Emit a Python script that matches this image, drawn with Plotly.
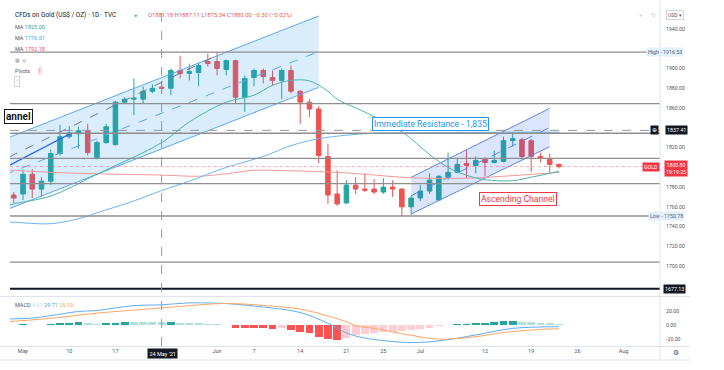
import plotly.graph_objects as go

# ---------------- data (trading-day index: 0 = Mon 3 May 2021) ----------------
day = list(range(-1, 59))
opens = [1772, 1773, 1793, 1778, 1786, 1814, 1831, 1834, 1837, 1810, 1825,
         1823, 1866, 1869, 1869, 1877, 1881.18, 1880, 1898, 1895, 1896,
         1907, 1907, 1899, 1908, 1871, 1891, 1898, 1891, 1888, 1898,
         1877, 1866, 1859, 1811, 1773, 1764, 1782, 1778, 1778, 1775,
         1780, 1778, 1760, 1769, 1776, 1767, 1790, 1795, 1804, 1802,
         1808, 1805, 1806, 1827, 1828, 1827, 1811, 1808, 1803]
highs = [1775, 1798, 1798, 1790, 1818, 1843, 1842, 1841, 1844, 1827, 1844,
         1867, 1871, 1890, 1882, 1884, 1887.11, 1900, 1913, 1905, 1906,
         1915, 1916.53, 1909, 1909, 1893, 1900, 1900, 1898, 1900, 1903,
         1878, 1869, 1862, 1824, 1797, 1787, 1790, 1794, 1788, 1789,
         1787, 1779, 1771, 1782, 1794, 1792, 1815, 1809, 1818, 1811,
         1810, 1817, 1831, 1834, 1830, 1829, 1815, 1814, 1804]
lows = [1764, 1767, 1769, 1771, 1782, 1812, 1829, 1819, 1812, 1808, 1824,
        1822, 1865, 1853, 1864, 1875, 1875.34, 1873, 1890, 1888, 1882,
        1902, 1893, 1893, 1865, 1856, 1882, 1885, 1883, 1869, 1875,
        1844, 1851, 1804, 1763, 1761, 1763, 1773, 1775, 1773, 1773,
        1770, 1750.78, 1752, 1766, 1773, 1766, 1787, 1794, 1789, 1794,
        1791, 1804, 1805, 1821, 1808, 1795, 1805, 1795, 1799]
closes = [1769, 1793, 1778, 1786, 1814, 1831, 1835, 1837, 1815, 1825, 1841,
          1866, 1869, 1870, 1877, 1880, 1880.00, 1898, 1895, 1897, 1903,
          1905, 1900, 1908, 1871, 1890, 1898, 1892, 1888, 1898, 1877,
          1866, 1859, 1812, 1772, 1763, 1782, 1778, 1777, 1775, 1780,
          1778, 1760, 1769, 1776, 1787, 1791, 1795, 1803, 1802, 1807,
          1805, 1807, 1827, 1829, 1811, 1811, 1809, 1803, 1800.80]

# moving averages (sample days / values)
ma_teal_day = [-2, -1, 3, 8, 15, 18, 22, 25, 27, 29, 31, 33, 34, 37, 41, 44, 46, 48, 50, 53, 55, 58]
ma_teal_val = [1760, 1763, 1771, 1793, 1825, 1846, 1866, 1873, 1883, 1888, 1887.5, 1877, 1869,
               1856, 1836, 1813, 1800, 1792, 1787.5, 1786.5, 1790, 1796]
ma_blue_day = [-2, -1, 3, 6, 8, 12, 15, 18, 22, 26, 29, 32, 35, 38, 43, 50, 58]
ma_blue_val = [1745, 1744.5, 1743, 1748, 1754, 1766, 1776.51, 1786, 1800, 1811, 1822, 1829,
               1832.5, 1834.5, 1835, 1835.5, 1835.5]
ma_red_day = [-2, -1, 3, 8, 15, 19, 22, 25, 29, 34, 37, 42, 48, 52, 58]
ma_red_val = [1797.5, 1797, 1795, 1793.5, 1792.18, 1791, 1793.5, 1797, 1796.5, 1795, 1793,
              1789.5, 1789, 1791, 1795]

# MACD pane
macd_hist = [1.0, 1.5, 0.5, 0.4, 1.5, 2.9, 3.9, 4.9, 2.9, 2.5, 2.9,
             3.9, 5.2, 5.0, 4.9, 4.8, 4.61, 5.4, 4.0, 3.4, 2.9,
             2.5, 2.0, 0.5, -3.4, -3.5, -3.9, -4.4, -4.9, -4.4, -7.4,
             -9.3, -10.8, -16.7, -19.6, -21.6, -18.6, -14.7, -12.3, -11.3, -9.8,
             -9.5, -8.3, -7.4, -5.9, -3.4, -1.5, 1.0, 2.0, 2.5, 3.9,
             4.0, 4.9, 6.4, 6.9, 5.4, 4.9, 3.9, 2.9, 2.0]
macd_day = [-2, 1, 3, 6, 8, 12, 15, 18, 21, 22, 26, 30, 33, 35, 36, 38, 42, 45, 49, 53, 58]
macd_val = [9, 10.5, 14, 20, 21.5, 28.5, 29.71, 32.5, 32, 31.5, 26.5, 18.5, 3, -11, -15.5,
            -20.6, -25, -22.6, -14, -4.5, -2]
signal_day = [-2, 3, 8, 15, 21, 23, 26, 30, 33, 35, 36, 38, 42, 45, 49, 52, 56, 58]
signal_val = [5, 10, 17.6, 25.10, 31.3, 31.3, 28.8, 23.5, 13.5, 5, -0.5, -4.5, -14.5, -20,
              -16.5, -10.5, -6, -5]

# horizontal levels drawn on the chart
levels = [1916.53, 1864.5, 1834.5, 1809, 1783.5, 1750.78, 1704]
level_black = 1677.13
last_price = 1800.80
cross_day, cross_price = 15, 1837.41

# drawings (day index, price)
left_channel_days = [-2, 32]
left_channel_upper = [1828.5, 1953.2]
left_channel_lower = [1756.3, 1881.0]
right_channel_days = [42, 57]
right_channel_upper = [1789.9, 1859.7]
right_channel_lower = [1752.8, 1820.9]
grey_trend_days = [-1.5, 21]
grey_trend_price = [1810.5, 1913.5]
blue_arrow_days = [-1.5, 5.1]
blue_arrow_price = [1802, 1834]

# x tick labels
tick_days = [0, 5, 10, 21, 25, 30, 35, 39, 43, 50, 55, 60, 65]
tick_text = ["May", "10", "17", "Jun", "7", "14", "21", "25", "Jul", "12", "19", "26", "Aug"]
price_ticks = [1700, 1720, 1740, 1760, 1780, 1820, 1860, 1880, 1900, 1940]
macd_ticks = [-20, 0, 20]

# ---------------- layout geometry ----------------
W, H = 724, 370
L, R, T, B = 10, 64, 5, 24
PW, PH = W - L - R, H - T - B
FONT = "Roboto, 'Noto Sans', sans-serif"


def px(x):
    return (x - L) / PW


def py(y):
    return (H - B - y) / PH


GREEN, RED = "#26a69a", "#ef5350"
TXT = "#131722"
AX = "#50535e"

fig = go.Figure()

# left channel
lc_x = left_channel_days + left_channel_days[::-1]
lc_y = left_channel_upper + left_channel_lower[::-1]
fig.add_trace(go.Scatter(x=lc_x, y=lc_y, fill="toself", fillcolor="rgba(33,150,243,0.17)",
                         line=dict(width=0), mode="lines", hoverinfo="skip"))
for ys in (left_channel_upper, left_channel_lower):
    fig.add_trace(go.Scatter(x=left_channel_days, y=ys, mode="lines",
                             line=dict(color="#5ea9f2", width=1), hoverinfo="skip"))
fig.add_trace(go.Scatter(x=left_channel_days,
                         y=[(a + b) / 2 for a, b in zip(left_channel_upper, left_channel_lower)],
                         mode="lines", line=dict(color="#5ea9f2", width=1, dash="dash"), hoverinfo="skip"))

# right channel
rc_x = right_channel_days + right_channel_days[::-1]
rc_y = right_channel_upper + right_channel_lower[::-1]
fig.add_trace(go.Scatter(x=rc_x, y=rc_y, fill="toself", fillcolor="rgba(41,98,255,0.17)",
                         line=dict(width=0), mode="lines", hoverinfo="skip"))
for ys in (right_channel_upper, right_channel_lower):
    fig.add_trace(go.Scatter(x=right_channel_days, y=ys, mode="lines",
                             line=dict(color="#5b87ee", width=1), hoverinfo="skip"))
fig.add_trace(go.Scatter(x=right_channel_days,
                         y=[(a + b) / 2 for a, b in zip(right_channel_upper, right_channel_lower)],
                         mode="lines", line=dict(color="#5b87ee", width=1, dash="dash"), hoverinfo="skip"))

fig.add_trace(go.Scatter(x=grey_trend_days, y=grey_trend_price, mode="lines",
                         line=dict(color="#787b86", width=1, dash="dash"), hoverinfo="skip"))
fig.add_trace(go.Scatter(x=blue_arrow_days, y=blue_arrow_price, mode="lines",
                         line=dict(color="#2962ff", width=1.3), hoverinfo="skip"))

# moving averages
fig.add_trace(go.Scatter(x=ma_red_day, y=ma_red_val, mode="lines", line=dict(color="#f19a97", width=1, shape="spline")))
fig.add_trace(go.Scatter(x=ma_blue_day, y=ma_blue_val, mode="lines", line=dict(color="#6cb4f5", width=1, shape="spline")))
fig.add_trace(go.Scatter(x=ma_teal_day, y=ma_teal_val, mode="lines", line=dict(color="#4fb3a8", width=1, shape="spline")))

# candles
fig.add_trace(go.Candlestick(x=day, open=opens, high=highs, low=lows, close=closes,
                             increasing=dict(line=dict(color=GREEN, width=1), fillcolor=GREEN),
                             decreasing=dict(line=dict(color=RED, width=1), fillcolor=RED),
                             whiskerwidth=0))

# MACD
hist_colors = []
prev = None
for v in macd_hist:
    rising = prev is None or v >= prev
    if v >= 0:
        hist_colors.append("#26a69a" if rising else "#b2dfdb")
    else:
        hist_colors.append("#ffcdd2" if rising else "#ff5252")
    prev = v
fig.add_trace(go.Bar(x=day, y=macd_hist, marker=dict(color=hist_colors, line=dict(width=0)),
                     width=0.85, xaxis="x", yaxis="y2"))
fig.add_trace(go.Scatter(x=macd_day, y=macd_val, mode="lines", line=dict(color="#5eabf4", width=1, shape="spline"),
                         xaxis="x", yaxis="y2"))
fig.add_trace(go.Scatter(x=signal_day, y=signal_val, mode="lines", line=dict(color="#ffa563", width=1, shape="spline"),
                         xaxis="x", yaxis="y2"))

# ---------------- shapes ----------------
shapes = []
for lv in levels:
    shapes.append(dict(type="line", xref="paper", x0=0, x1=1, yref="y", y0=lv, y1=lv,
                       line=dict(color="#8e8e8e", width=1.3), layer="above"))
shapes.append(dict(type="line", xref="paper", x0=0, x1=1, yref="y", y0=level_black, y1=level_black,
                   line=dict(color="#131722", width=2)))
shapes.append(dict(type="line", xref="paper", x0=0, x1=1, yref="y", y0=last_price, y1=last_price,
                   line=dict(color="rgba(239,83,80,0.45)", width=1, dash="dot")))
shapes.append(dict(type="line", xref="paper", x0=0, x1=1, yref="y", y0=cross_price, y1=cross_price,
                   line=dict(color="#9598a1", width=1, dash="dash")))
shapes.append(dict(type="line", xref="x", x0=cross_day, x1=cross_day, yref="paper", y0=0, y1=1,
                   line=dict(color="#9598a1", width=1, dash="dash")))
# pane separators / borders
shapes.append(dict(type="line", xref="paper", x0=px(0), x1=px(690), yref="paper", y0=py(296.5), y1=py(296.5),
                   line=dict(color="#e0e3eb", width=1)))
shapes.append(dict(type="line", xref="paper", x0=px(0), x1=px(690), yref="paper", y0=py(346.5), y1=py(346.5),
                   line=dict(color="#e0e3eb", width=1)))
shapes.append(dict(type="line", xref="paper", x0=px(0), x1=px(690), yref="paper", y0=py(360), y1=py(360),
                   line=dict(color="#e0e3eb", width=1)))
shapes.append(dict(type="line", xref="paper", x0=px(660), x1=px(660), yref="paper", y0=py(360), y1=py(0),
                   line=dict(color="#e0e3eb", width=1)))

# ---------------- annotations ----------------
ann = []


def text(x, y, s, size=6, color=TXT, xanchor="left", **kw):
    d = dict(xref="paper", yref="paper", x=px(x), y=py(y), text=s, showarrow=False,
             xanchor=xanchor, yanchor="middle", font=dict(size=size, color=color, family=FONT))
    d.update(kw)
    ann.append(d)


text(13, 15.5, "CFDs on Gold (US$ / OZ) · 1D · TVC", size=6.5)
text(132, 15.5, "●", size=5, color=GREEN)
sp = "<span style='color:#ef5350'>%s</span>"
text(146, 15.5, "O" + sp % "1881.18" + " H" + sp % "1887.11" + " L" + sp % "1875.34" +
     " C" + sp % "1880.00" + " " + sp % "−0.30 (−0.02%)", size=5.8, color="#787b86")
text(13, 27.3, "MA <span style='color:#26a69a'>1825.00</span>", size=5.5, color="#50535e")
text(13, 38.3, "MA <span style='color:#42a5f5'>1776.51</span>", size=5.5, color="#50535e")
text(13, 49, "MA <span style='color:#ef5350'>1792.18</span>", size=5.5, color="#50535e")
text(13, 60, "▦  ◎", size=5, color="#9598a1")
text(13, 70.7, "Pivots", size=5.5, color="#50535e")
text(40, 70.7, "!", size=5.5, color="#f23645", xanchor="center", bgcolor="#fde3e4", borderpad=1)
text(14, 81.5, "˄", size=6, color="#50535e", bordercolor="#d1d4dc", borderwidth=1, borderpad=1, bgcolor="white")
text(13, 305, "MACD <span style='color:#b2dfdb'>4.61</span> <span style='color:#42a5f5'>29.71</span> "
     "<span style='color:#ff9f5a'>25.10</span>", size=5.5, color="#50535e")

# chart labels
text(430, 123.8, "Immediate Resistance - 1,835", size=8.6, color="#2196f3", xanchor="center",
     bordercolor="#2196f3", borderwidth=1, borderpad=1, bgcolor="white")
text(518, 199, "Ascending Channel", size=8.6, color="#f23645", xanchor="center",
     bordercolor="#f23645", borderwidth=1, borderpad=1, bgcolor="white")
text(33, 116, "<b>annel</b>", size=10, color=TXT, xanchor="right",
     bordercolor=TXT, borderwidth=1, borderpad=1, bgcolor="white")

# axis labels / badges
text(675, 15, "USD ▾", size=5, color="#50535e", xanchor="center", bordercolor="#d1d4dc", borderwidth=1,
     borderpad=1, bgcolor="white")
text(641, 15, "+", size=6, color="#c3c6ce", xanchor="center")
text(653, 15, "↻", size=6, color="#c3c6ce", xanchor="center")


def ylab(price, s, x, bg, fc, xanchor="center", size=5.3, **kw):
    d = dict(xref="paper", yref="y", x=px(x), y=price, text=s, showarrow=False, xanchor=xanchor,
             yanchor="middle", bgcolor=bg, font=dict(size=size, color=fc, family=FONT), borderpad=1)
    d.update(kw)
    ann.append(d)


ylab(1916.53, "High - 1916.53", 665, "#e3effd", "#4a5e78")
ylab(1750.78, "Low - 1750.78", 666, "#e3effd", "#4a5e78")
ylab(cross_price, "1837.41", 676, "#131722", "white")
ylab(cross_price, "⊕", 654.5, "#131722", "white", size=5.5)
ylab(last_price, "GOLD", 660, "#f23645", "white", xanchor="right")
ylab(level_black, "1677.13", 674, "#131722", "white")
text(676, 168.5, "1800.80<br>19:19:25", size=5.2, color="white", xanchor="center", bgcolor="#f23645", borderpad=1)

text(162, 353, "24 May '21", size=5.5, color="white", xanchor="center", bgcolor="#131722", borderpad=1.5)
text(676, 353, "⚙", size=7, color="#50535e", xanchor="center")

fig.update_layout(
    width=W, height=H, margin=dict(l=L, r=R, t=T, b=B),
    paper_bgcolor="white", plot_bgcolor="white", showlegend=False,
    font=dict(family=FONT, size=5.5, color=AX),
    annotations=ann, shapes=shapes, bargap=0,
    xaxis=dict(range=[-1.41, 68.94], anchor="y2", tickvals=tick_days, ticktext=tick_text,
               showgrid=False, zeroline=False, showline=False, ticks="",
               tickfont=dict(size=5.5, color=AX), rangeslider=dict(visible=False), fixedrange=True),
    yaxis=dict(domain=[py(296), 1.0], range=[1669.8, 1964.3], side="right",
               tickvals=price_ticks, ticktext=["%.2f" % v for v in price_ticks],
               showgrid=False, zeroline=False, showline=False, ticks="outside", ticklen=4,
               tickcolor="rgba(0,0,0,0)", tickfont=dict(size=5.2, color=AX)),
    yaxis2=dict(domain=[0, py(297)], range=[-30, 41], side="right", anchor="x",
                tickvals=macd_ticks, ticktext=["%.2f" % v for v in macd_ticks],
                showgrid=False, zeroline=False, showline=False, ticks="outside", ticklen=4,
                tickcolor="rgba(0,0,0,0)", tickfont=dict(size=5.2, color=AX)),
)

fig.write_html("out.html", config={"displayModeBar": False, "staticPlot": True},
               post_script="document.body.style.margin='0';document.body.style.overflow='hidden';")
